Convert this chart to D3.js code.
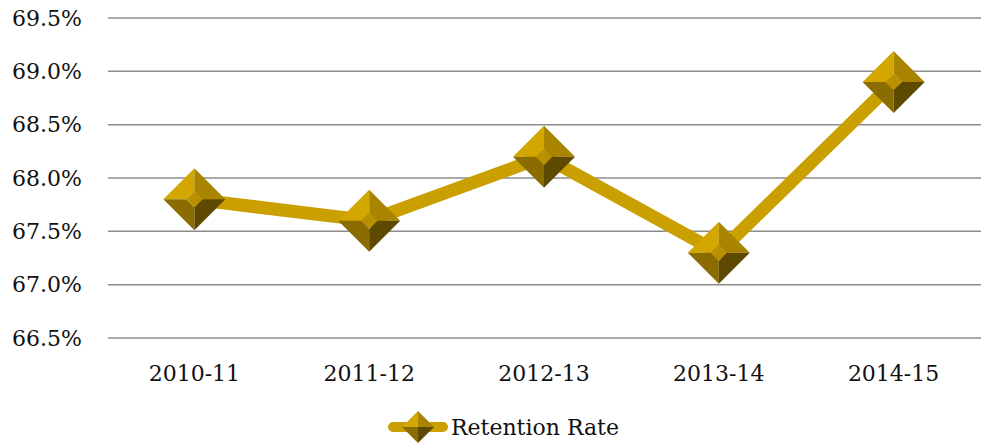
<!DOCTYPE html>
<html>
<head>
<meta charset="utf-8">
<script src="https://cdn.jsdelivr.net/npm/d3@7"></script>
<style>
  body { margin: 0; background: #fff; }
  text { font-family: "DejaVu Serif", serif; fill: #111; }
</style>
</head>
<body>
<div id="chart"></div>
<script>
const categories = ["2010-11", "2011-12", "2012-13", "2013-14", "2014-15"];
const retention = [67.8, 67.6, 68.2, 67.3, 68.9];
const yTicks = [66.5, 67.0, 67.5, 68.0, 68.5, 69.0, 69.5];
const seriesName = "Retention Rate";

const width = 984;
const height = 447;
const margin = { top: 18, right: 3, bottom: 109, left: 107 };

const svg = d3.select("#chart").append("svg")
    .attr("width", width)
    .attr("height", height);

const x = d3.scaleBand().domain(categories).range([margin.left, width - margin.right]);
const y = d3.scaleLinear().domain([66.5, 69.5]).range([height - margin.bottom, margin.top]);

// gridlines
svg.append("g").selectAll("line").data(yTicks).join("line")
    .attr("x1", margin.left + 1).attr("x2", width - margin.right)
    .attr("y1", d => y(d)).attr("y2", d => y(d))
    .attr("stroke", "#8c8c8c").attr("stroke-width", 1.5);

// y labels
svg.append("g").selectAll("text").data(yTicks).join("text")
    .attr("x", 82).attr("y", d => y(d))
    .attr("dy", "0.35em")
    .attr("text-anchor", "end")
    .attr("font-size", 22)
    .text(d => d.toFixed(1) + "%");

// x labels
svg.append("g").selectAll("text").data(categories).join("text")
    .attr("x", d => x(d) + x.bandwidth() / 2)
    .attr("y", height - margin.bottom + 35)
    .attr("dy", "0.35em")
    .attr("text-anchor", "middle")
    .attr("font-size", 22)
    .text(d => d);

const line = d3.line()
    .x((d, i) => x(categories[i]) + x.bandwidth() / 2)
    .y(d => y(d));

svg.append("path").datum(retention)
    .attr("fill", "none")
    .attr("stroke", "#c9a000")
    .attr("stroke-width", 13)
    .attr("stroke-linejoin", "round")
    .attr("d", line);

// bevelled diamond marker
function marker(g, R, r) {
    const faces = [
        { pts: [[-R, 0], [0, -R], [0, -r], [-r, 0]], c: "#d3a600" },
        { pts: [[0, -R], [R, 0], [r, 0], [0, -r]], c: "#a88400" },
        { pts: [[-R, 0], [-r, 0], [0, r], [0, R]], c: "#8a6c00" },
        { pts: [[R, 0], [0, R], [0, r], [r, 0]], c: "#5e4900" },
        { pts: [[-r, 0], [0, -r], [r, 0], [0, r]], c: "#b89000" }
    ];
    g.selectAll("polygon").data(faces).join("polygon")
        .attr("points", d => d.pts.map(p => p.join(",")).join(" "))
        .attr("fill", d => d.c);
}

svg.append("g").selectAll("g").data(retention).join("g")
    .attr("transform", (d, i) => `translate(${x(categories[i]) + x.bandwidth() / 2},${y(d)})`)
    .each(function () { marker(d3.select(this), 31, 8); });

// legend
const legend = svg.append("g").attr("transform", "translate(418,427)");
legend.append("line")
    .attr("x1", -25).attr("x2", 25)
    .attr("stroke", "#c9a000").attr("stroke-width", 10).attr("stroke-linecap", "round");
marker(legend.append("g"), 16, 0.1);
legend.append("text")
    .attr("x", 33).attr("dy", "0.35em")
    .attr("font-size", 22)
    .text(seriesName);
</script>
</body>
</html>
